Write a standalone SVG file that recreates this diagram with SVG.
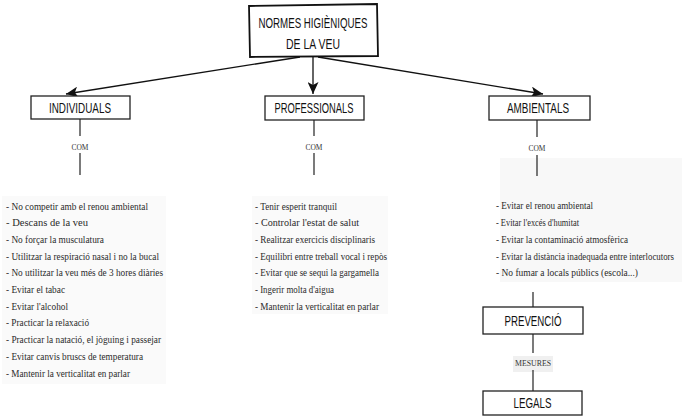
<svg xmlns="http://www.w3.org/2000/svg" width="682" height="417" viewBox="0 0 682 417">
  <defs>
    <marker id="head" markerUnits="userSpaceOnUse" markerWidth="13" markerHeight="11" refX="12" refY="5.5" orient="auto">
      <path d="M0,0 L12,5.5 L0,11 L3,5.5 z" fill="#111"/>
    </marker>
    <style>
      .box { fill: #fff; stroke: #222; stroke-width: 1.3; }
      .main { fill: #fff; stroke: #111; stroke-width: 1.8; }
      .lbl { font-family: "Liberation Sans", Arial, sans-serif; fill: #111; text-anchor: middle; }
      .item { font-family: "Liberation Serif", "Times New Roman", serif; font-size: 11px; fill: #2a2a2a; }
      .small { font-family: "Liberation Serif", "Times New Roman", serif; fill: #333; text-anchor: middle; }
      .wire { stroke: #222; stroke-width: 1.2; fill: none; }
      .arrow { stroke: #111; stroke-width: 1.3; fill: none; marker-end: url(#head); }
    </style>
  </defs>

  <rect width="682" height="417" fill="#fff"/>
  <!-- faint paper tone behind the lists -->
  <rect x="2" y="196" width="164" height="188" fill="#fafafa"/>
  <rect x="252" y="196" width="136" height="118" fill="#fafafa"/>
  <rect x="500" y="158" width="182" height="124" fill="#f8f8f8"/>
  <rect x="513" y="356" width="40" height="16" fill="#f0f0f0"/>

  <!-- connectors -->
  <g id="connectors">
    <line class="arrow" x1="300" y1="57" x2="66" y2="94"/>
    <line class="arrow" x1="313" y1="57" x2="313" y2="94"/>
    <line class="arrow" x1="318" y1="57" x2="543" y2="94"/>

    <line class="wire" x1="80" y1="119" x2="80" y2="136"/>
    <line class="wire" x1="80" y1="153" x2="80" y2="175"/>
    <line class="wire" x1="314" y1="120" x2="314" y2="136"/>
    <line class="wire" x1="314" y1="153" x2="314" y2="175"/>
    <line class="wire" x1="537" y1="120" x2="537" y2="137"/>
    <line class="wire" x1="537" y1="155" x2="537" y2="176"/>

    <line class="wire" x1="533" y1="292" x2="533" y2="307"/>
    <line class="wire" x1="533" y1="334" x2="533" y2="353"/>
    <line class="wire" x1="533" y1="370" x2="533" y2="391"/>
  </g>

  <!-- title -->
  <g id="normes">
    <polygon class="main" points="249,6 377,4 378,56 250,57"/>
    <text class="lbl" x="313" y="28" font-size="15" textLength="109" lengthAdjust="spacingAndGlyphs">NORMES HIGIÈNIQUES</text>
    <text class="lbl" x="313" y="49" font-size="15" textLength="54" lengthAdjust="spacingAndGlyphs">DE LA VEU</text>
  </g>

  <g id="individuals">
    <rect class="box" x="31" y="96" width="99" height="23"/>
    <text class="lbl" x="80" y="112.5" font-size="14" textLength="62" lengthAdjust="spacingAndGlyphs">INDIVIDUALS</text>
  </g>

  <g id="professionals">
    <rect class="box" x="265" y="96" width="99" height="24"/>
    <text class="lbl" x="314" y="113" font-size="14" textLength="79" lengthAdjust="spacingAndGlyphs">PROFESSIONALS</text>
  </g>

  <g id="ambientals">
    <rect class="box" x="489" y="96" width="101" height="24"/>
    <text class="lbl" x="538" y="113" font-size="14" textLength="62" lengthAdjust="spacingAndGlyphs">AMBIENTALS</text>
  </g>

  <!-- link words -->
  <g id="com-labels">
    <text class="small" x="80" y="150" font-size="8.5" textLength="17" lengthAdjust="spacingAndGlyphs">COM</text>
    <text class="small" x="314" y="150" font-size="8.5" textLength="17" lengthAdjust="spacingAndGlyphs">COM</text>
    <text class="small" x="537" y="151" font-size="8.5" textLength="17" lengthAdjust="spacingAndGlyphs">COM</text>
  </g>

  <g id="list-individuals">
    <text class="item" x="6" y="209.5" textLength="142" lengthAdjust="spacingAndGlyphs">- No competir amb el renou ambiental</text>
    <text class="item" x="6" y="226.2" textLength="82" lengthAdjust="spacingAndGlyphs">- Descans de la veu</text>
    <text class="item" x="6" y="242.9" textLength="98" lengthAdjust="spacingAndGlyphs">- No forçar la musculatura</text>
    <text class="item" x="6" y="259.6" textLength="153" lengthAdjust="spacingAndGlyphs">- Utilitzar la respiració nasal i no la bucal</text>
    <text class="item" x="6" y="276.3" textLength="157" lengthAdjust="spacingAndGlyphs">- No utilitzar la veu més de 3 hores diàries</text>
    <text class="item" x="6" y="293" textLength="59" lengthAdjust="spacingAndGlyphs">- Evitar el tabac</text>
    <text class="item" x="6" y="309.7" textLength="62" lengthAdjust="spacingAndGlyphs">- Evitar l'alcohol</text>
    <text class="item" x="6" y="326.4" textLength="83" lengthAdjust="spacingAndGlyphs">- Practicar la relaxació</text>
    <text class="item" x="6" y="343.1" textLength="155" lengthAdjust="spacingAndGlyphs">- Practicar la natació, el jòguing i passejar</text>
    <text class="item" x="6" y="359.8" textLength="137" lengthAdjust="spacingAndGlyphs">- Evitar canvis bruscs de temperatura</text>
    <text class="item" x="6" y="376.5" textLength="124" lengthAdjust="spacingAndGlyphs">- Mantenir la verticalitat en parlar</text>
  </g>

  <g id="list-professionals">
    <text class="item" x="255" y="209.5" textLength="82" lengthAdjust="spacingAndGlyphs">- Tenir esperit tranquil</text>
    <text class="item" x="255" y="226.2" textLength="104" lengthAdjust="spacingAndGlyphs">- Controlar l'estat de salut</text>
    <text class="item" x="255" y="242.9" textLength="120" lengthAdjust="spacingAndGlyphs">- Realitzar exercicis disciplinaris</text>
    <text class="item" x="255" y="259.6" textLength="132" lengthAdjust="spacingAndGlyphs">- Equilibri entre treball vocal i repòs</text>
    <text class="item" x="255" y="276.3" textLength="124" lengthAdjust="spacingAndGlyphs">- Evitar que se sequi la gargamella</text>
    <text class="item" x="255" y="293" textLength="79" lengthAdjust="spacingAndGlyphs">- Ingerir molta d'aigua</text>
    <text class="item" x="255" y="309.7" textLength="124" lengthAdjust="spacingAndGlyphs">- Mantenir la verticalitat en parlar</text>
  </g>

  <!-- narrow column: compressed horizontally so the long line stays inside the page -->
  <g id="list-ambientals" transform="translate(496,0) scale(0.72,1)">
    <text class="item" x="0" y="209.5" textLength="134.7" lengthAdjust="spacingAndGlyphs">- Evitar el renou ambiental</text>
    <text class="item" x="0" y="226.2" textLength="115.3" lengthAdjust="spacingAndGlyphs">- Evitar l'excés d'humitat</text>
    <text class="item" x="0" y="242.9" textLength="183.3" lengthAdjust="spacingAndGlyphs">- Evitar la contaminació atmosfèrica</text>
    <text class="item" x="0" y="259.6" textLength="247.2" lengthAdjust="spacingAndGlyphs">- Evitar la distància inadequada entre interlocutors</text>
    <text class="item" x="0" y="276.3" textLength="197.2" lengthAdjust="spacingAndGlyphs">- No fumar a locals públics (escola...)</text>
  </g>

  <g id="prevencio">
    <rect class="box" x="483" y="307" width="100" height="27"/>
    <text class="lbl" x="533" y="326" font-size="14" textLength="57" lengthAdjust="spacingAndGlyphs">PREVENCIÓ</text>
  </g>

  <g id="mesures">
    <text class="small" x="533" y="366" font-size="7.5" textLength="36" lengthAdjust="spacingAndGlyphs">MESURES</text>
  </g>

  <g id="legals">
    <rect class="box" x="483" y="391" width="99" height="24"/>
    <text class="lbl" x="532.5" y="408" font-size="14" textLength="38" lengthAdjust="spacingAndGlyphs">LEGALS</text>
  </g>
</svg>
